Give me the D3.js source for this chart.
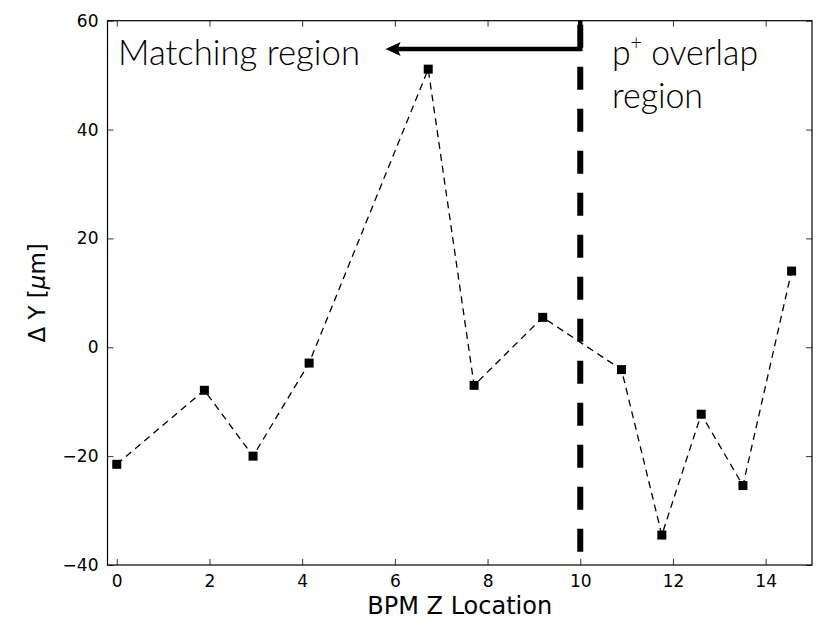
<!DOCTYPE html>
<html>
<head>
<meta charset="utf-8">
<script src="https://cdn.jsdelivr.net/npm/d3@7"></script>
<style>
  body { margin: 0; background: #fff; }
  .tick text { font-family: "DejaVu Sans", sans-serif; font-size: 17px; fill: #000; }
  .note { font-family: Lato, "Open Sans", sans-serif; font-weight: 300; font-size: 36px; fill: #000; }
</style>
</head>
<body>
<script>
/* BPM positions and measured offsets */
var zLocation = [0, 1.89, 2.94, 4.15, 6.72, 7.71, 9.19, 10.89, 11.76, 12.61, 13.51, 14.56];
var deltaY = [-21.5, -7.9, -20.0, -2.9, 51.1, -7.0, 5.5, -4.1, -34.5, -12.3, -25.4, 14.0];
var xTicks = [0, 2, 4, 6, 8, 10, 12, 14];
var yTicks = [-40, -20, 0, 20, 40, 60];

/* boundary between the two regions, and the arrow */
var boundaryZ = 10;
var arrowTipZ = 5.8, arrowY = 54.8;

var width = 830, height = 622;
var pLeft = 107.5, pRight = 812, pTop = 20.7, pBottom = 565;

var x = d3.scaleLinear().domain([-0.2, 15]).range([pLeft, pRight]);
var y = d3.scaleLinear().domain([-40, 60]).range([pBottom, pTop]);

var svg = d3.select("body").append("svg")
    .attr("width", width)
    .attr("height", height);

svg.append("rect").attr("width", width).attr("height", height).attr("fill", "#fff");

/* axes, ticks pointing inward on all four sides */
svg.append("g")
    .attr("transform", "translate(0," + pBottom + ")")
    .call(d3.axisBottom(x).tickValues(xTicks).tickSize(-6).tickPadding(10));
svg.append("g")
    .attr("transform", "translate(0," + pTop + ")")
    .call(d3.axisTop(x).tickValues(xTicks).tickSize(-6).tickFormat(""));
svg.append("g")
    .attr("transform", "translate(" + pLeft + ",0)")
    .call(d3.axisLeft(y).tickValues(yTicks).tickSize(-6).tickPadding(9));
svg.append("g")
    .attr("transform", "translate(" + pRight + ",0)")
    .call(d3.axisRight(y).tickValues(yTicks).tickSize(-6).tickFormat(""));

svg.selectAll(".domain").remove();
svg.selectAll(".tick line").attr("stroke", "#000").attr("stroke-width", 0.8);

svg.append("rect")
    .attr("x", pLeft).attr("y", pTop)
    .attr("width", pRight - pLeft).attr("height", pBottom - pTop)
    .attr("fill", "none").attr("stroke", "#000").attr("stroke-width", 1.2);

/* axis labels */
svg.append("text")
    .attr("x", (pLeft + pRight) / 2).attr("y", 614)
    .attr("text-anchor", "middle")
    .style("font-family", "DejaVu Sans, sans-serif").style("font-size", "24px")
    .text("BPM Z Location");

svg.append("text")
    .attr("transform", "translate(45," + y(10) + ") rotate(-90)")
    .attr("text-anchor", "middle")
    .style("font-family", "DejaVu Sans, sans-serif").style("font-size", "23px")
    .html('\u0394 Y [<tspan font-style="italic">\u03bc</tspan>m]');

/* data line and markers */
var points = zLocation.map(function(d, i) { return [d, deltaY[i]]; });

var line = d3.line()
    .x(function(d) { return x(d[0]); })
    .y(function(d) { return y(d[1]); });

svg.append("path")
    .datum(points)
    .attr("d", line)
    .attr("fill", "none")
    .attr("stroke", "#000")
    .attr("stroke-width", 1.3)
    .attr("stroke-dasharray", "7,5");

svg.selectAll(".pt")
    .data(points)
    .enter().append("rect")
    .attr("class", "pt")
    .attr("x", function(d) { return x(d[0]) - 4.5; })
    .attr("y", function(d) { return y(d[1]) - 4.5; })
    .attr("width", 9).attr("height", 9)
    .attr("fill", "#000");

/* region boundary */
svg.append("line")
    .attr("x1", x(boundaryZ)).attr("x2", x(boundaryZ))
    .attr("y1", y(60)).attr("y2", y(-40))
    .attr("stroke", "#000")
    .attr("stroke-width", 6)
    .attr("stroke-dasharray", "23,19")
    .attr("stroke-dashoffset", 38);

/* arrow pointing into the matching region */
var tipX = x(arrowTipZ), ay = y(arrowY);
svg.append("path")
    .attr("d", "M" + x(boundaryZ) + "," + y(60) + "V" + ay + "H" + (tipX + 12))
    .attr("fill", "none")
    .attr("stroke", "#000")
    .attr("stroke-width", 4.5);
svg.append("path")
    .attr("d", "M" + tipX + "," + ay + "L" + (tipX + 15) + "," + (ay - 7) +
               "L" + (tipX + 12) + "," + ay + "L" + (tipX + 15) + "," + (ay + 7) + "Z")
    .attr("fill", "#000");

/* region labels */
svg.append("text").attr("class", "note")
    .attr("x", 118).attr("y", 65)
    .attr("textLength", 242).attr("lengthAdjust", "spacingAndGlyphs")
    .text("Matching region");

var pt = svg.append("text").attr("class", "note")
    .attr("x", 612).attr("y", 65)
    .attr("textLength", 146).attr("lengthAdjust", "spacingAndGlyphs");
pt.append("tspan").text("p");
pt.append("tspan").attr("dy", -15).style("font-size", "21px").text("+");
pt.append("tspan").attr("dy", 15).text(" overlap");

svg.append("text").attr("class", "note")
    .attr("x", 612).attr("y", 108)
    .attr("textLength", 91).attr("lengthAdjust", "spacingAndGlyphs")
    .text("region");
</script>
</body>
</html>
